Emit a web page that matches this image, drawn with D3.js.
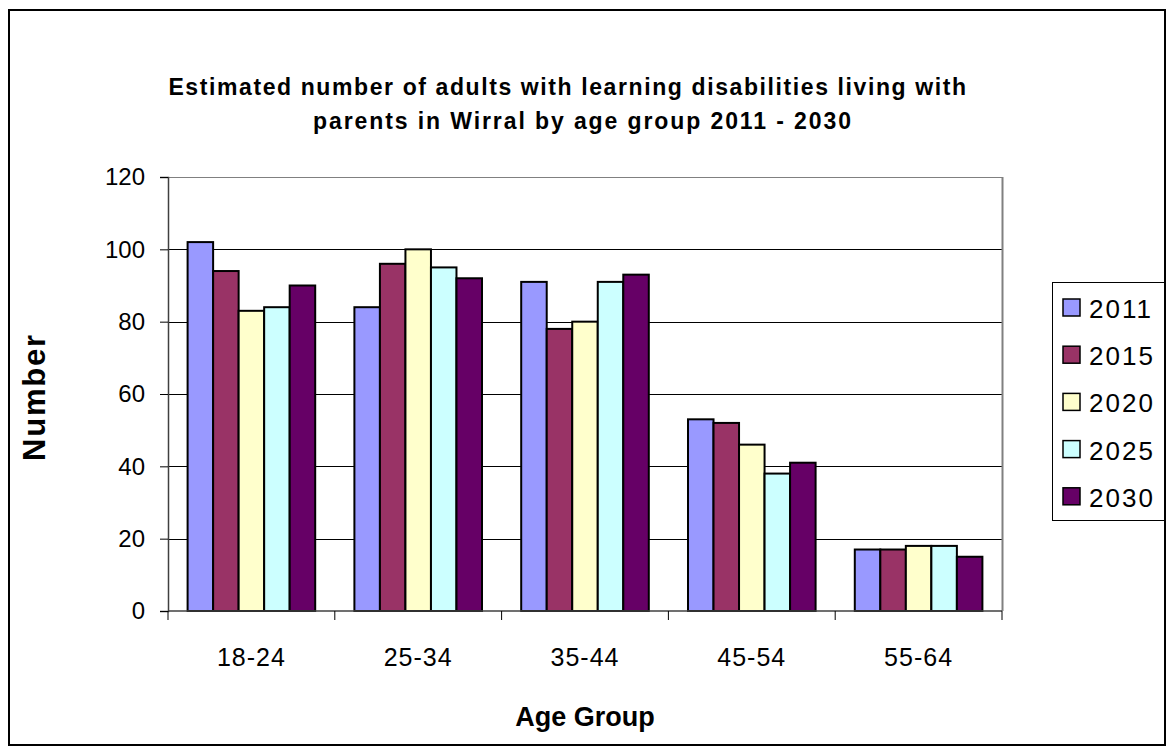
<!DOCTYPE html>
<html>
<head>
<meta charset="utf-8">
<script src="https://cdn.jsdelivr.net/npm/d3@7"></script>
<style>
  body { margin: 0; background: #fff; }
  svg { display: block; font-family: "Liberation Sans", Arial, sans-serif; }
</style>
</head>
<body>
<div id="chart"></div>
<script>
// data
const ageGroups = ['18-24', '25-34', '35-44', '45-54', '55-64'];
const years = ['2011', '2015', '2020', '2025', '2030'];
const values2011 = [102, 84, 91, 53, 17];
const values2015 = [94, 96, 78, 52, 17];
const values2020 = [83, 100, 80, 46, 18];
const values2025 = [84, 95, 91, 38, 18];
const values2030 = [90, 92, 93, 41, 15];
const yTicks = [0, 20, 40, 60, 80, 100, 120];

const seriesValues = [values2011, values2015, values2020, values2025, values2030];
const colors = ['#9999FF', '#993366', '#FFFFCC', '#CCFFFF', '#660066'];

// graph constants
const w = 1168;
const h = 755;
const plot = { left: 168, right: 1002, top: 177, bottom: 611 };

const svg = d3.select('#chart')
    .append('svg')
    .attr('width', w)
    .attr('height', h);

// outer frame
svg.append('rect')
    .attr('x', 9).attr('y', 10)
    .attr('width', 1156).attr('height', 735)
    .attr('fill', '#fff')
    .attr('stroke', '#000')
    .attr('stroke-width', 2);

// title (excel spreads the letters a bit)
const title = svg.append('text')
    .attr('text-anchor', 'middle')
    .attr('font-weight', 'bold')
    .attr('font-size', 23)
    .attr('letter-spacing', 1.6);
title.append('tspan').attr('x', 568).attr('y', 95)
    .text('Estimated number of adults with learning disabilities living with');
title.append('tspan').attr('x', 583).attr('y', 129)
    .attr('letter-spacing', 1.9)
    .text('parents in Wirral by age group 2011 - 2030');

// scales
const xScale = d3.scaleBand()
    .domain(ageGroups)
    .range([plot.left, plot.right]);
const groupGap = 19.6;
const xInner = d3.scaleBand()
    .domain(years)
    .range([groupGap, xScale.bandwidth() - groupGap]);
const yScale = d3.scaleLinear()
    .domain([0, 120])
    .range([plot.bottom, plot.top]);

// gridlines
svg.append('g')
    .selectAll('line')
    .data(yTicks.filter(d => d > 0))
    .enter()
    .append('line')
    .attr('x1', plot.left).attr('x2', plot.right)
    .attr('y1', d => Math.round(yScale(d)) + 0.5)
    .attr('y2', d => Math.round(yScale(d)) + 0.5)
    .attr('stroke', d => d === 120 ? '#808080' : '#000')
    .attr('stroke-width', 1);

// right plot border
svg.append('line')
    .attr('x1', plot.right + 0.5).attr('x2', plot.right + 0.5)
    .attr('y1', plot.top).attr('y2', plot.bottom)
    .attr('stroke', '#808080')
    .attr('stroke-width', 2);

// bars
const groups = svg.append('g')
    .selectAll('g')
    .data(years)
    .enter()
    .append('g')
    .attr('fill', (d, i) => colors[i]);

groups.selectAll('rect')
    .data((d, i) => ageGroups.map((g, j) => ({ group: g, year: d, value: seriesValues[i][j] })))
    .enter()
    .append('rect')
    .attr('x', d => xScale(d.group) + xInner(d.year))
    .attr('y', d => yScale(d.value))
    .attr('width', xInner.bandwidth())
    .attr('height', d => yScale(0) - yScale(d.value))
    .attr('stroke', '#000')
    .attr('stroke-width', 2);

// y axis
const yAxis = d3.axisLeft(yScale)
    .tickValues(yTicks)
    .tickSize(8)
    .tickPadding(15);
const yAxisG = svg.append('g')
    .attr('transform', `translate(${plot.left}, 0)`)
    .call(yAxis);
yAxisG.select('.domain').attr('stroke', '#404040').attr('stroke-width', 1.5);
yAxisG.selectAll('.tick line').attr('stroke', '#000');
yAxisG.selectAll('.tick text')
    .attr('font-size', 24)
    .attr('font-family', '"Liberation Sans", Arial, sans-serif')
    .attr('fill', '#000');

// x axis: ticks between categories
const xAxisG = svg.append('g')
    .attr('transform', `translate(0, ${plot.bottom})`);
xAxisG.append('line')
    .attr('x1', plot.left).attr('x2', plot.right)
    .attr('stroke', '#404040').attr('stroke-width', 1.5);
xAxisG.selectAll('line.tick')
    .data(ageGroups.concat(['end']))
    .enter()
    .append('line')
    .attr('class', 'tick')
    .attr('x1', (d, i) => i < ageGroups.length ? xScale(d) : plot.right)
    .attr('x2', (d, i) => i < ageGroups.length ? xScale(d) : plot.right)
    .attr('y1', 0).attr('y2', 9)
    .attr('stroke', '#000');
xAxisG.selectAll('text')
    .data(ageGroups)
    .enter()
    .append('text')
    .attr('x', d => xScale(d) + xScale.bandwidth() / 2)
    .attr('y', 55)
    .attr('text-anchor', 'middle')
    .attr('font-size', 25)
    .attr('letter-spacing', 1)
    .text(d => d);

// axis titles
svg.append('text')
    .attr('x', 585).attr('y', 726)
    .attr('text-anchor', 'middle')
    .attr('font-weight', 'bold')
    .attr('font-size', 27)
    .text('Age Group');
svg.append('text')
    .attr('transform', 'translate(45, 397) rotate(-90)')
    .attr('text-anchor', 'middle')
    .attr('font-weight', 'bold')
    .attr('font-size', 31)
    .attr('letter-spacing', 1.8)
    .text('Number');

// legend
const legend = svg.append('g')
    .attr('transform', 'translate(1052, 282)');
legend.append('rect')
    .attr('x', 0.5).attr('y', 0.5)
    .attr('width', 112).attr('height', 238)
    .attr('fill', '#fff')
    .attr('stroke', '#000');
const items = legend.selectAll('g.item')
    .data(years)
    .enter()
    .append('g')
    .attr('class', 'item')
    .attr('transform', (d, i) => `translate(0, ${26 + i * 47.2})`);
items.append('rect')
    .attr('x', 11).attr('y', -9)
    .attr('width', 17).attr('height', 17)
    .attr('fill', (d, i) => colors[i])
    .attr('stroke', '#000')
    .attr('stroke-width', 1.5);
items.append('text')
    .attr('x', 37).attr('y', 10)
    .attr('font-size', 26)
    .attr('letter-spacing', 2)
    .text(d => d);
</script>
</body>
</html>
